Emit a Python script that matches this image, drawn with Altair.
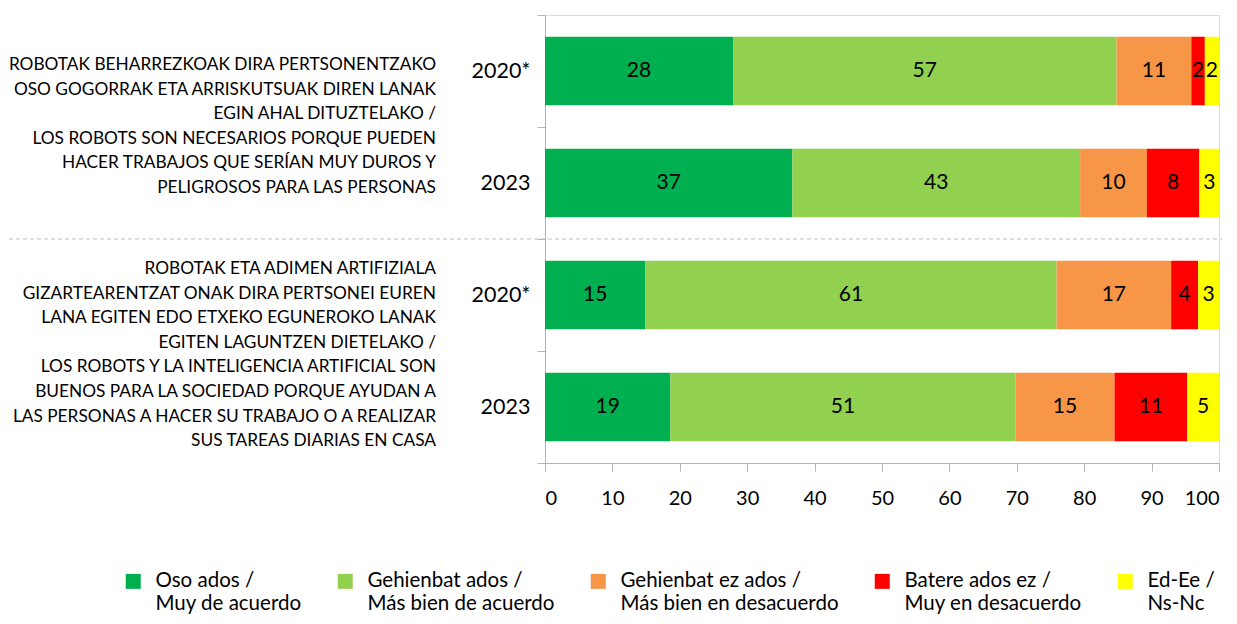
import altair as alt
import pandas as pd

# ---- data ----
row_keys = ["1 2020*", "1 2023", "2 2020*", "2 2023"]
categories = [
    "Oso ados /|Muy de acuerdo",
    "Gehienbat ados /|Más bien de acuerdo",
    "Gehienbat ez ados /|Más bien en desacuerdo",
    "Batere ados ez /|Muy en desacuerdo",
    "Ed-Ee /|Ns-Nc",
]
colors = ["#00B050", "#92D050", "#F79646", "#FF0000", "#FFFF00"]

oso_ados = [27.9, 36.7, 14.9, 18.6]
gehienbat_ados = [56.9, 42.7, 61.0, 51.2]
gehienbat_ez_ados = [11.1, 9.9, 17.0, 14.7]
batere_ados_ez = [2.0, 7.8, 4.0, 10.8]
ed_ee = [2.1, 2.9, 3.1, 4.7]

question_keys = ["1 2020*", "2 2020*"]
question_texts = [
    "ROBOTAK BEHARREZKOAK DIRA PERTSONENTZAKO|OSO GOGORRAK ETA ARRISKUTSUAK DIREN LANAK|"
    "EGIN AHAL DITUZTELAKO /|LOS ROBOTS SON NECESARIOS PORQUE PUEDEN|"
    "HACER TRABAJOS QUE SERÍAN MUY DUROS Y|PELIGROSOS PARA LAS PERSONAS",
    "ROBOTAK ETA ADIMEN ARTIFIZIALA|GIZARTEARENTZAT ONAK DIRA PERTSONEI EUREN|"
    "LANA EGITEN EDO ETXEKO EGUNEROKO LANAK|EGITEN LAGUNTZEN DIETELAKO /|"
    "LOS ROBOTS Y LA INTELIGENCIA ARTIFICIAL SON|BUENOS PARA LA SOCIEDAD PORQUE AYUDAN A|"
    "LAS PERSONAS A HACER SU TRABAJO O A REALIZAR|SUS TAREAS DIARIAS EN CASA",
]
separator_key = ["2 2020*"]
x_ticks = [0, 10, 20, 30, 40, 50, 60, 70, 80, 90, 100]

series = [oso_ados, gehienbat_ados, gehienbat_ez_ados, batere_ados_ez, ed_ee]
records = []
for ci, (cat, vals) in enumerate(zip(categories, series)):
    for ri, key in enumerate(row_keys):
        records.append({"row": key, "cat": cat, "idx": ci, "value": vals[ri]})
df = pd.DataFrame(records)
qdf = pd.DataFrame({"row": question_keys, "text": question_texts})
sdf = pd.DataFrame({"row": separator_key})

FONT = "Lato"
W, H = 674, 448
LH = 24.6

yscale = alt.Scale(domain=row_keys, paddingInner=0, paddingOuter=0)

base = alt.Chart(df).transform_stack(
    stack="value", groupby=["row"], as_=["x0", "x1"], sort=[alt.SortField("idx")]
).transform_calculate(mid="(datum.x0 + datum.x1) / 2")

bars = base.mark_bar(height=alt.RelativeBandSize(0.61)).encode(
    y=alt.Y(
        "row:N",
        scale=yscale,
        axis=alt.Axis(
            title=None,
            labelExpr="split(datum.label, ' ')[1]",
            tickBand="extent",
            labelFontSize=21.5,
            labelFont=FONT,
            labelColor="black",
            labelPadding=7,
            tickSize=8,
            domainColor="#b3b3b3",
            tickColor="#b3b3b3",
        ),
    ),
    x=alt.X(
        "x0:Q",
        scale=alt.Scale(domain=[0, 100], nice=False),
        axis=alt.Axis(
            title=None,
            values=x_ticks,
            grid=False,
            tickSize=8,
            labelFontSize=20,
            labelFont=FONT,
            labelColor="black",
            labelPadding=17,
            domainColor="#b3b3b3",
            tickColor="#b3b3b3",
        ),
    ),
    x2="x1:Q",
    color=alt.Color(
        "cat:N",
        scale=alt.Scale(domain=categories, range=colors),
        legend=alt.Legend(
            title=None,
            orient="none",
            legendX=-422,
            legendY=556,
            direction="horizontal",
            columns=5,
            labelExpr="split(datum.label, '|')",
            symbolType="square",
            symbolSize=225,
            symbolStrokeWidth=0,
            labelFontSize=20.5,
            labelFont=FONT,
            labelColor="black",
            labelBaseline="middle",
            labelLimit=400,
            labelOffset=12,
            columnPadding=33,
        ),
    ),
)

labels = base.mark_text(fontSize=21, font=FONT, color="black").encode(
    y=alt.Y("row:N", scale=yscale),
    x=alt.X("mid:Q"),
    text=alt.Text("value:Q", format=".0f"),
)

qbase = alt.Chart(qdf).encode(
    y=alt.Y("row:N", scale=yscale),
    x=alt.value(-109),
    text="text:N",
)
qstyle = dict(align="right", baseline="middle", lineBreak="|", fontSize=17.3,
              font=FONT, lineHeight=LH, color="black")
qtext1 = qbase.transform_filter(alt.datum.row == question_keys[0]).mark_text(dy=-6, **qstyle)
qtext2 = qbase.transform_filter(alt.datum.row == question_keys[1]).mark_text(dy=-26, **qstyle)

sep = alt.Chart(sdf).mark_rule(
    strokeDash=[4, 3], color="#bfbfbf", strokeWidth=1.2, yOffset=-56
).encode(
    y=alt.Y("row:N", scale=yscale),
    x=alt.value(-536),
    x2=alt.value(W + 3),
)

chart = (
    alt.layer(sep, bars, labels, qtext1, qtext2)
    .properties(
        width=W,
        height=H,
        autosize=alt.AutoSizeParams(type="none"),
        padding={"top": 7, "left": 537, "right": 8, "bottom": 153},
    )
    .configure_view(stroke=None)
    .configure(font=FONT, style={"guide-label": {"lineHeight": 23}})
)

chart.save("out.html", embed_options={"renderer": "svg", "actions": False})
